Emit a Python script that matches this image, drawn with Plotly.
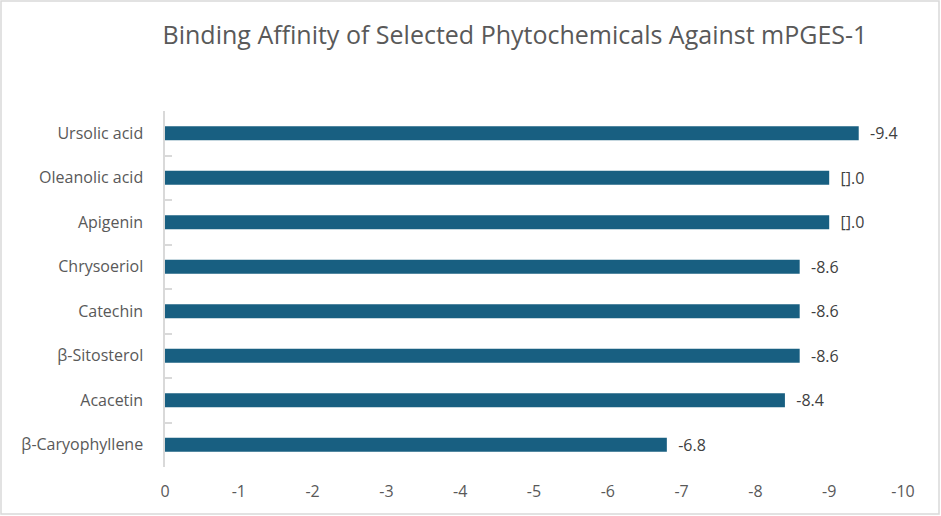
import plotly.graph_objects as go

#### data (top to bottom) ####
compounds = ['Ursolic acid', 'Oleanolic acid', 'Apigenin', 'Chrysoeriol',
             'Catechin', 'β-Sitosterol', 'Acacetin', 'β-Caryophyllene']
affinity = [-9.4, -9.0, -9.0, -8.6, -8.6, -8.6, -8.4, -6.8]
# data labels as they appear in the original (two of them are broken in the source)
value_labels = ['-9.4', '[].0', '[].0', '-8.6', '-8.6', '-8.6', '-8.4', '-6.8']
x_ticks = [0, -1, -2, -3, -4, -5, -6, -7, -8, -9, -10]

W, H = 941, 516
ml, mr, mt, mb = 165, 38, 111, 49
pw, ph = W - ml - mr, H - mt - mb

font = 'Open Sans'
grey = '#595959'

fig = go.Figure(go.Bar(
    x=affinity, y=compounds, orientation='h',
    marker=dict(color='#185F81', line=dict(width=0)),
    width=0.31,
    text=['  ' + t for t in value_labels], textposition='outside', cliponaxis=False,
    constraintext='none',
    textfont=dict(family=font, size=16, color='#404040'),
))

fig.update_layout(
    width=W, height=H,
    margin=dict(l=ml, r=mr, t=mt, b=mb, autoexpand=False),
    paper_bgcolor='white', plot_bgcolor='white',
    showlegend=False,
    title=dict(text='Binding Affinity of Selected Phytochemicals Against mPGES-1',
               x=515 / W, xanchor='center', xref='container',
               y=1 - 35 / H, yanchor='middle', yref='container',
               font=dict(family=font, size=25, color=grey)),
    xaxis=dict(range=[0, -10], tickvals=x_ticks, ticktext=[str(v) for v in x_ticks],
               showgrid=False, zeroline=False, showline=False, ticks='',
               automargin=False, ticklabelstandoff=13,
               tickfont=dict(family=font, size=16, color=grey)),
    yaxis=dict(autorange='reversed', showgrid=False, zeroline=False,
               showline=True, linecolor='#d9d9d9', linewidth=2,
               ticks='inside', tickson='boundaries', ticklen=7, tickwidth=2,
               tickcolor='#d9d9d9',
               automargin=False,
               tickfont=dict(family=font, size=16, color=grey), ticksuffix='    '),
    shapes=[dict(type='rect', xref='paper', yref='paper',
                 x0=(1 - ml) / pw, x1=(W - 2 - ml) / pw,
                 y0=(H - mb - (H - 2)) / ph, y1=(H - mb - 1) / ph,
                 line=dict(color='#d9d9d9', width=1.5))],
)

# drop the default page margin so the figure sits at the window corner
fig.write_html('out.html', config={'displayModeBar': False},
               post_script="document.body.style.margin='0';")
